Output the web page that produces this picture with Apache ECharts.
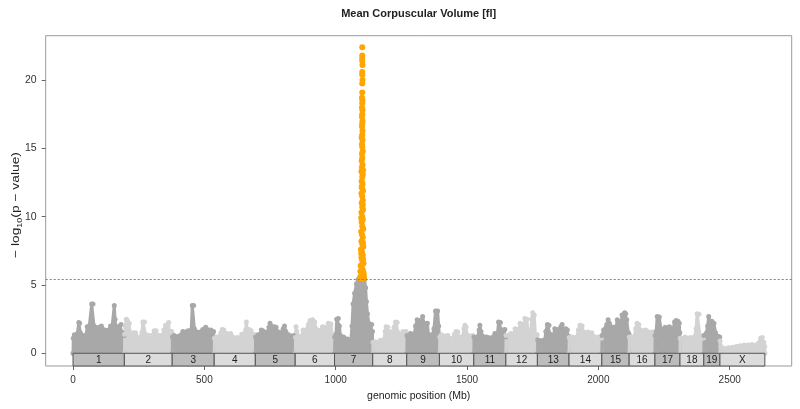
<!DOCTYPE html>
<html><head><meta charset="utf-8">
<script src="https://cdn.jsdelivr.net/npm/echarts@6/dist/echarts.min.js"></script>
<style>html,body{margin:0;padding:0;background:#fff}#c{width:800px;height:409px}</style>
</head><body><div id="c"></div>
<script>
// ---- data ----
const chrNames  = ['1','2','3','4','5','6','7','8','9','10','11','12','13','14','15','16','17','18','19','X'];
const chrStarts = [0,195.5,377.6,537.6,694.1,845.9,995.6,1141.0,1270.4,1395.0,1525.7,1647.8,1767.9,1888.3,2013.2,2117.2,2215.4,2310.7,2401.4,2462.8];
const chrEnds   = [195.5,377.6,537.6,694.1,845.9,995.6,1141.0,1270.4,1395.0,1525.7,1647.8,1767.9,1888.3,2013.2,2117.2,2215.4,2310.7,2401.4,2462.8,2633.8];
const xTicks = [0,500,1000,1500,2000,2500];
const yTicks = [0,5,10,15,20];
const threshold = 5.4;

// upper envelope of the dense grey point cloud per chromosome [Mb, -log10 p]
const chr1 = [[0,0],[1,1.1],[5,1.35],[16,1.4],[19,1.5],[22,2.25],[25,2.2],[28,1.5],[35,1.3],[50,1.35],[54,1.95],[62,2.0],[67,2.0],[71,3.6],[76,3.6],[80,2.0],[85,1.9],[92,1.85],[100,1.9],[108,2.0],[114,1.75],[120,1.7],[126,1.65],[136,1.7],[143,2.0],[148,1.8],[154,1.9],[157,3.5],[160,2.5],[163,1.95],[170,1.9],[178,2.0],[183,2.1],[188,1.5],[195,1.3],[195.3,0]];
const chr2 = [[196,0],[196.5,1.4],[199,2.0],[203,2.5],[207,2.4],[211,2.0],[214,2.2],[218,1.3],[226,1.2],[229,1.5],[238,1.5],[243,1.2],[258,1.2],[262,1.5],[266,2.3],[272,2.3],[276,1.4],[290,1.3],[305,1.35],[309,1.65],[316,1.65],[320,1.35],[342,1.35],[346,1.7],[352,2.05],[358,2.05],[364,2.25],[366,1.6],[376,1.6],[377.3,0]];
const chr3 = [[378,0],[378.5,1.2],[385,1.3],[400,1.25],[412,1.35],[418,1.6],[438,1.65],[444,1.5],[450,1.7],[454,3.5],[459,3.5],[462,1.8],[468,1.6],[488,1.6],[494,1.75],[505,1.9],[512,1.75],[525,1.7],[535,1.6],[537.3,0]];
const chr4 = [[538,0],[538.5,1.1],[545,1.2],[558,1.25],[563,1.5],[568,1.75],[574,1.7],[578,1.3],[585,1.45],[600,1.45],[605,1.25],[625,1.15],[635,1.05],[642,1.4],[653,1.45],[657,1.7],[660,2.3],[663,1.75],[670,1.75],[678,1.65],[683,1.4],[693,1.35],[693.8,0]];
const chr5 = [[694.5,0],[695,1.2],[705,1.35],[713,1.4],[717,1.7],[722,1.65],[727,1.55],[742,1.6],[746,1.9],[750,2.2],[754,2.0],[760,1.9],[766,1.95],[773,1.9],[778,1.6],[796,1.55],[800,1.8],[805,2.0],[810,1.6],[820,1.35],[840,1.3],[845.5,0]];
const chr6 = [[846.5,0],[847,1.15],[849,1.95],[852,1.6],[860,1.2],[870,1.25],[876,1.7],[890,1.75],[896,2.1],[902,2.4],[912,2.45],[920,2.3],[924,1.8],[944,1.7],[950,1.95],[958,1.9],[962,1.5],[967,1.7],[972,2.2],[982,2.15],[987,1.3],[995,1.2],[995.3,0]];
const chr7 = [[996,0],[996.5,1.2],[1001,1.4],[1004,2.5],[1010,2.55],[1014,2.0],[1018,1.3],[1030,1.2],[1045,1.05],[1058,1.0],[1062,2.0],[1066,3.6],[1072,4.4],[1079,5.1],[1085,5.4],[1110,5.4],[1114,4.8],[1117,3.8],[1121,2.9],[1126,2.2],[1132,2.0],[1137,2.1],[1140,1.6],[1140.7,0]];
const chr8 = [[1141.5,0],[1142,0.8],[1150,0.85],[1165,0.85],[1170,0.95],[1184,1.0],[1188,1.6],[1192,1.95],[1198,1.9],[1201,1.6],[1216,1.6],[1222,1.9],[1228,2.3],[1234,2.25],[1238,1.5],[1250,1.35],[1256,1.6],[1268,1.6],[1270,0]];
const chr9 = [[1271,0],[1271.5,1.3],[1285,1.45],[1300,1.45],[1304,2.0],[1310,2.45],[1318,2.4],[1322,2.0],[1328,2.1],[1331,2.7],[1336,2.2],[1349,2.2],[1353,1.4],[1368,1.35],[1374,1.8],[1380,3.1],[1388,3.1],[1392,2.0],[1394.3,1.35],[1394.7,0]];
const chr10 = [[1395.5,0],[1396,1.2],[1402,1.35],[1427,1.3],[1432,1.1],[1447,1.1],[1452,1.4],[1458,1.6],[1465,1.55],[1470,1.2],[1484,1.25],[1488,1.8],[1492,2.05],[1496,1.9],[1500,1.35],[1522,1.3],[1525.3,0]];
const chr11 = [[1526,0],[1526.5,1.2],[1540,1.2],[1546,1.7],[1549,2.05],[1553,1.6],[1560,1.25],[1575,1.2],[1600,1.2],[1606,1.45],[1616,1.45],[1620,2.3],[1627,2.25],[1631,1.7],[1640,1.7],[1644,1.75],[1647,1.2],[1647.5,0]];
const chr12 = [[1648,0],[1648.5,1.3],[1662,1.35],[1666,1.45],[1678,1.45],[1683,1.8],[1692,1.75],[1697,1.5],[1702,2.2],[1710,2.1],[1715,1.9],[1720,2.55],[1728,2.5],[1732,1.4],[1741,1.4],[1746,2.5],[1750,2.97],[1756,2.8],[1760,1.4],[1767,1.35],[1767.5,0]];
const chr13 = [[1768.5,0],[1769,1.0],[1796,1.0],[1800,1.6],[1806,2.1],[1812,2.05],[1816,1.4],[1830,1.35],[1834,1.8],[1845,1.75],[1850,1.5],[1857,1.95],[1862,2.1],[1866,1.75],[1876,1.8],[1882,1.7],[1887,1.25],[1888,0]];
const chr14 = [[1888.5,0],[1889,1.15],[1900,1.2],[1918,1.2],[1924,1.7],[1930,2.05],[1938,2.0],[1942,1.6],[1960,1.55],[1975,1.5],[1982,1.25],[2000,1.2],[2012,1.1],[2013,0]];
const chr15 = [[2013.5,0],[2014,1.3],[2020,1.7],[2027,1.6],[2032,2.1],[2037,2.45],[2042,2.2],[2048,1.95],[2060,1.9],[2066,1.7],[2072,2.45],[2080,2.3],[2086,2.1],[2090,2.8],[2096,2.75],[2100,2.97],[2104,2.9],[2108,2.45],[2114,1.5],[2116.5,1.4],[2117,0]];
const chr16 = [[2117.5,0],[2118,1.2],[2138,1.25],[2142,1.8],[2147,2.2],[2154,2.1],[2158,1.75],[2180,1.7],[2186,1.6],[2206,1.55],[2210,1.35],[2215,1.3],[2215.2,0]];
const chr17 = [[2215.7,0],[2216,1.3],[2220,1.6],[2224,2.7],[2232,2.65],[2238,1.8],[2250,1.55],[2254,1.9],[2262,1.8],[2270,1.95],[2278,1.85],[2284,1.65],[2290,2.3],[2296,2.4],[2303,2.35],[2308,2.2],[2310,1.5],[2310.5,0]];
const chr18 = [[2311,0],[2311.5,1.1],[2330,1.2],[2350,1.15],[2366,1.2],[2372,1.8],[2376,2.9],[2383,2.85],[2387,1.3],[2400,1.1],[2401,0]];
const chr19 = [[2401.7,0],[2402,1.3],[2410,1.45],[2416,2.0],[2420,2.7],[2424,2.3],[2432,2.35],[2440,2.2],[2446,1.5],[2455,1.25],[2462,1.2],[2462.5,0]];
const chrX = [[2463,0],[2463.5,0.9],[2467,0.5],[2480,0.35],[2495,0.4],[2510,0.45],[2525,0.5],[2540,0.55],[2555,0.6],[2570,0.6],[2585,0.65],[2600,0.6],[2610,0.75],[2618,1.1],[2624,1.15],[2630,0.8],[2633.5,0.5],[2634,0]];

// significant SNPs above threshold (chr7 peak)
const hitPoints = [[1101,22.4],[1101,21.8],[1101,21.6],[1101,21.4],[1102,21.1],[1101,20.6],[1101,20.4],[1102,20.0],[1101,19.75],[1101,19.1],
 [1100,18.7],[1102,18.5],[1101,18.3],[1100,18.0],[1102,17.8],[1101,17.5],[1100,17.3],[1102,17.0],[1101,16.8],[1100,16.6],[1102,16.3],[1101,16.0],[1099,15.8],[1102,15.6],[1100,15.3],[1101,15.1],[1103,14.8],[1100,14.6],[1101,14.3],[1099,14.1],[1102,13.8],
 [1100,13.6],[1098,13.3],[1103,13.1],[1101,12.9],[1099,12.6],[1102,12.4],[1100,12.1],[1104,11.9],[1098,11.7],[1101,11.5],[1103,11.2],[1099,11.0],[1101,10.7],[1104,10.5],[1098,10.3],[1101,10.0],[1103,9.8],[1099,9.6],[1101,9.3],[1105,9.1],[1097,8.9],[1100,8.7],[1103,8.5],[1098,8.2],[1101,8.0],[1105,7.8],[1096,7.6],[1100,7.4],[1103,7.2],[1098,7.0],[1101,6.8],[1106,6.6],[1095,6.4],[1099,6.3],[1103,6.1],[1097,5.95],[1101,5.8],[1107,5.7],[1094,5.6],[1099,5.55],[1104,5.5],[1096,5.45],[1102,5.45],
 [1104,13.4],[1099,12.2],[1103,10.9],[1097,9.9],[1104,8.1],[1097,7.3],[1104,6.9],[1094,6.0],[1106,5.9],[1092,5.5],[1108,5.5]];

const envelopes = [chr1,chr2,chr3,chr4,chr5,chr6,chr7,chr8,chr9,chr10,chr11,chr12,chr13,chr14,chr15,chr16,chr17,chr18,chr19,chrX];

// ---- styling / layout ----
const FONT = '"Liberation Sans", Arial, Helvetica, sans-serif';
const X_MIN = -104, X_MAX = 2736, Y_MIN = -0.93, Y_MAX = 23.25;
const ptDark = '#a8a8a8', ptLight = '#d3d3d3';
const boxDark = '#bdbdbd', boxLight = '#dcdcdc';

const chart = echarts.init(document.getElementById('c'), null, {renderer: 'canvas'});

const series = envelopes.map((d, i) => ({
  type: 'line', data: d, symbol: 'circle', symbolSize: 5, showSymbol: true, showAllSymbol: true,
  silent: true, z: 2,
  itemStyle: {color: i % 2 === 0 ? ptDark : ptLight, borderWidth: 0},
  lineStyle: {color: i % 2 === 0 ? ptDark : ptLight, width: 3, join: 'round', cap: 'round'},
  areaStyle: {color: i % 2 === 0 ? ptDark : ptLight, opacity: 1}
}));

series.push({
  type: 'scatter', data: hitPoints, symbol: 'circle', symbolSize: 6, z: 3, silent: true,
  itemStyle: {color: '#ffa500', opacity: 1},
  markLine: {
    silent: true, symbol: ['none','none'], animation: false,
    label: {show: false},
    lineStyle: {color: '#808080', type: [2,2], width: 1},
    data: [{yAxis: threshold}]
  }
});

series.push({
  type: 'custom', z: 5, silent: true,
  data: chrNames.map((n, i) => [chrStarts[i], chrEnds[i], i]),
  renderItem: function (params, api) {
    const s = api.value(0), e = api.value(1), idx = api.value(2);
    const p1 = api.coord([s, 0]);
    const p2 = api.coord([e, Y_MIN]);
    return {
      type: 'group',
      children: [
        {type: 'rect', shape: {x: p1[0], y: p1[1], width: p2[0]-p1[0], height: p2[1]-p1[1]},
         style: {fill: idx % 2 === 0 ? boxDark : boxLight, stroke: '#555', lineWidth: 1}},
        {type: 'text', style: {text: chrNames[idx], x: (p1[0]+p2[0])/2, y: (p1[1]+p2[1])/2 + 0.5,
          align: 'center', verticalAlign: 'middle', font: '10px ' + FONT, fill: '#222'}}
      ]
    };
  }
});

chart.setOption({
  animation: false,
  backgroundColor: '#fff',
  grid: {left: 45.7, right: 8.3, top: 35.7, bottom: 43, show: true, borderColor: '#9a9a9a', borderWidth: 1, containLabel: false},
  xAxis: {
    type: 'value', min: X_MIN, max: X_MAX,
    axisLine: {show: false, onZero: false},
    splitLine: {show: false},
    axisTick: {show: true, inside: false, length: 4, customValues: xTicks, lineStyle: {color: '#666'}},
    axisLabel: {show: true, customValues: xTicks, margin: 9, fontSize: 10, color: '#333', fontFamily: FONT,
                formatter: v => String(v)}
  },
  yAxis: {
    type: 'value', min: Y_MIN, max: Y_MAX,
    axisLine: {show: false, onZero: false},
    splitLine: {show: false},
    axisTick: {show: true, inside: false, length: 4, customValues: yTicks, lineStyle: {color: '#666'}},
    axisLabel: {show: true, customValues: yTicks, margin: 9, fontSize: 10.5, color: '#333', fontFamily: FONT,
                formatter: v => String(v)}
  },
  graphic: [
    {type: 'text', x: 418.7, y: 14, silent: true,
     style: {text: 'Mean Corpuscular Volume [fl]', font: 'bold 11px ' + FONT, fill: '#222', align: 'center', verticalAlign: 'middle'}},
    {type: 'text', x: 418.7, y: 396, silent: true,
     style: {text: 'genomic position (Mb)', font: '10.5px ' + FONT, fill: '#222', align: 'center', verticalAlign: 'middle'}},
    {type: 'text', x: 16, y: 205, rotation: Math.PI / 2, scaleX: 1.2, silent: true,
     style: {text: '\u2212 log{sub|10}(p \u2212 value)', font: '11.5px ' + FONT, fill: '#222', align: 'center', verticalAlign: 'middle',
       lineHeight: 15,
       rich: {sub: {fontSize: 7.5, fontFamily: FONT, lineHeight: 8, verticalAlign: 'bottom', fill: '#222'}}}}
  ],
  series: series
});
</script>
</body></html>
